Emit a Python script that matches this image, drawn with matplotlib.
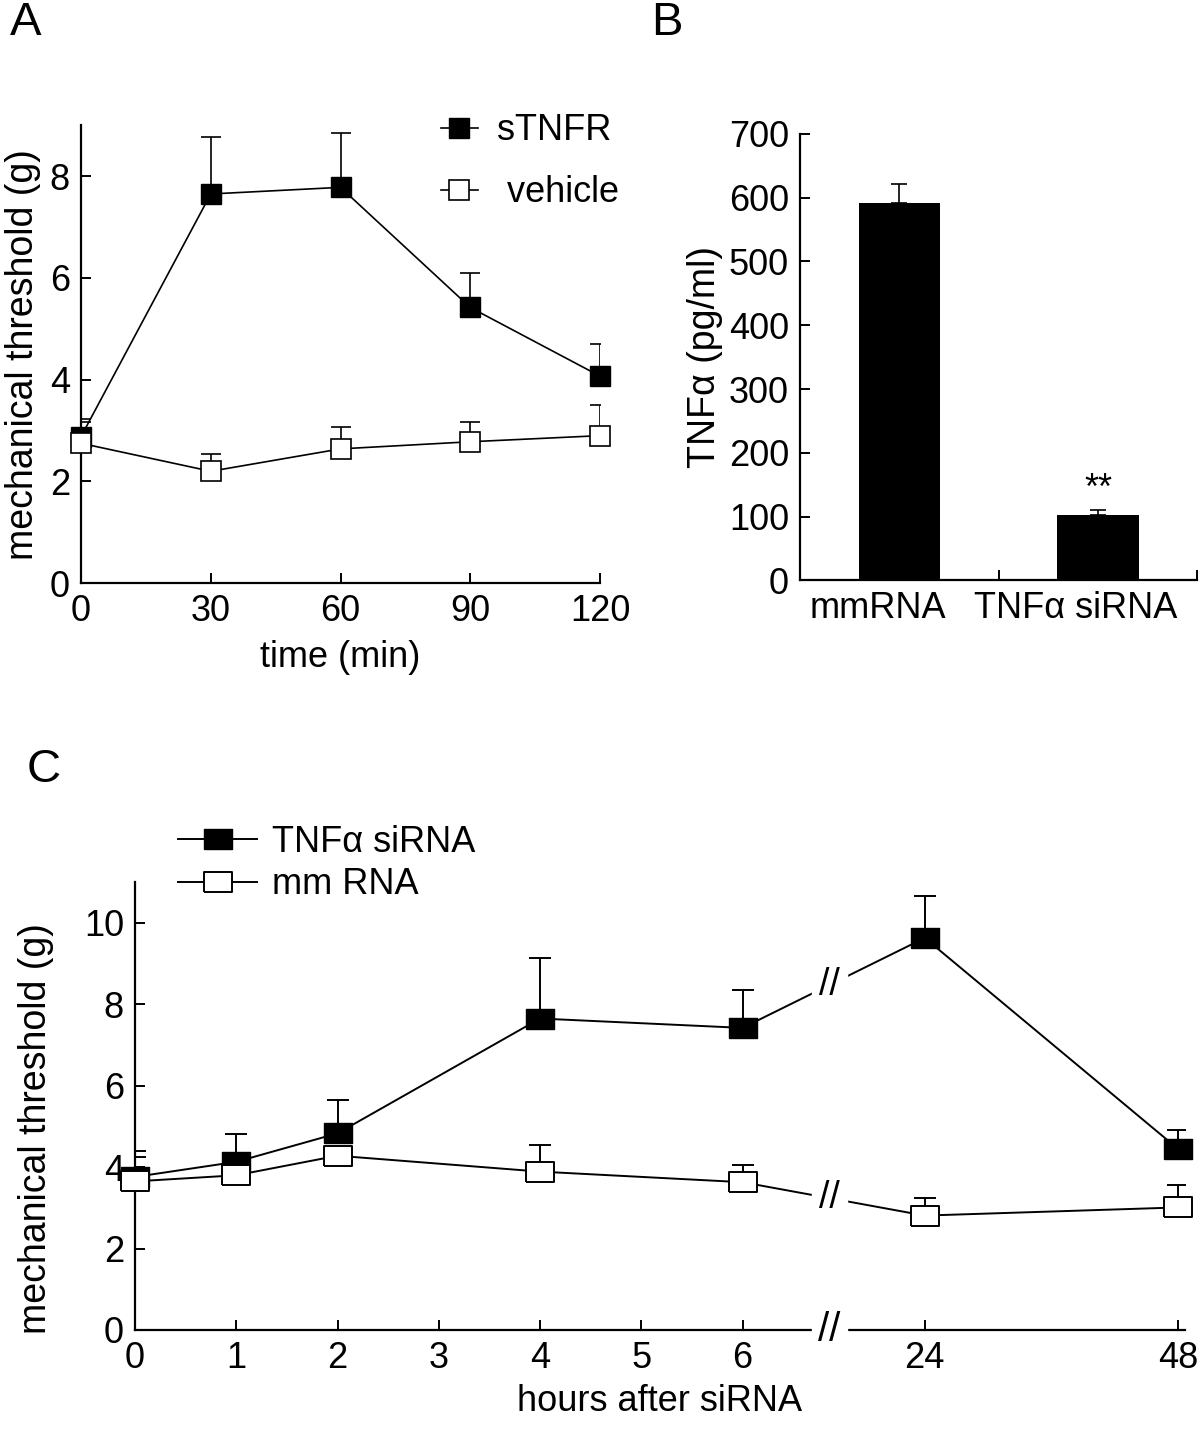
import matplotlib
matplotlib.use("Agg")
import matplotlib.pyplot as plt
import numpy as np

plt.rcParams['font.family'] = ['Liberation Sans', 'DejaVu Sans']
FS = 26
plt.rcParams['font.size'] = FS

# ---- panel A data ----
a_time = [0, 30, 60, 90, 120]
a_stnfr = [2.88, 7.65, 7.78, 5.42, 4.07]
a_stnfr_err = [0.35, 1.12, 1.07, 0.68, 0.64]
a_vehicle = [2.75, 2.2, 2.64, 2.78, 2.9]
a_vehicle_err = [0.42, 0.34, 0.43, 0.39, 0.6]

# ---- panel B data ----
b_groups = ["mmRNA", "TNF\u03b1 siRNA"]
b_values = [591, 103]
b_err = [31, 7]

# ---- panel C data ----
c_hours = [0, 1, 2, 4, 6, 24, 48]
c_sirna = [3.76, 4.13, 4.83, 7.65, 7.42, 9.63, 4.45]
c_sirna_err = [0.63, 0.68, 0.81, 1.48, 0.93, 1.02, 0.46]
c_mm = [3.65, 3.8, 4.28, 3.89, 3.63, 2.81, 3.01]
c_mm_err = [0.61, 0.0, 0.0, 0.65, 0.43, 0.42, 0.55]
c_tick_hours = [0, 1, 2, 3, 4, 5, 6, 24, 48]


def hour_to_pos(h):
    # broken x scale: 0-6 h linear, then 24 and 48 h compressed
    h = np.asarray(h, dtype=float)
    return np.where(h <= 6, h, 7.8 + (h - 24) * (2.5 / 24))


rect = [(-1.35, -1), (1.35, -1), (1.35, 1), (-1.35, 1), (-1.35, -1)]

fig = plt.figure(figsize=(12, 14.4), dpi=100)


def style(ax):
    ax.spines['top'].set_visible(False)
    ax.spines['right'].set_visible(False)
    ax.spines['left'].set_linewidth(1.6)
    ax.spines['bottom'].set_linewidth(1.6)
    ax.tick_params(direction='in', length=7, width=1.4, pad=8, labelsize=FS)


# ================= Panel A =================
axA = fig.add_axes([0.0675, 0.595, 0.4325, 0.318])
style(axA)
axA.errorbar(a_time, a_stnfr, yerr=[np.zeros(5), a_stnfr_err], fmt='none',
             ecolor='black', elinewidth=1.2, capsize=7, capthick=1.2, zorder=2)
axA.errorbar(a_time, a_vehicle, yerr=[np.zeros(5), a_vehicle_err], fmt='none',
             ecolor='black', elinewidth=1.2, capsize=7, capthick=1.2, zorder=2)
axA.plot(a_time, a_stnfr, color='black', lw=1.2, marker='s', ms=14,
         mfc='black', mec='black', label='sTNFR', zorder=3, clip_on=False)
axA.plot(a_time, a_vehicle, color='black', lw=1.2, marker='s', ms=14,
         mfc='white', mec='black', mew=1.2, label=' vehicle', zorder=4, clip_on=False)
axA.set_xlim(0, 120)
axA.set_ylim(0, 9)
axA.set_xticks(a_time)
axA.set_yticks([0, 2, 4, 6, 8])
axA.set_xlabel('time (min)', fontsize=FS, labelpad=8)
axA.set_ylabel('mechanical threshold (g)', fontsize=27, labelpad=6)
axA.legend(loc='upper right', bbox_to_anchor=(1.1, 1.097), frameon=False,
           fontsize=FS, handlelength=1.0, labelspacing=0.75, handletextpad=0.55)

# ================= Panel B =================
axB = fig.add_axes([0.6667, 0.597, 0.331, 0.310])
style(axB)
xb = np.arange(len(b_groups)) + 0.5
axB.bar(xb, b_values, width=0.41, color='black', zorder=2)
axB.errorbar(xb, b_values, yerr=[np.zeros(2), b_err], fmt='none', ecolor='black',
             elinewidth=1.2, capsize=6, capthick=1.2, zorder=1)
axB.text(xb[1], b_values[1] + b_err[1] + 32, '**', ha='center', va='center', fontsize=26)
axB.set_xlim(0, 2)
axB.set_ylim(0, 700)
axB.set_yticks(np.arange(0, 701, 100))
axB.set_xticks([1, 2])
axB.set_xticklabels([])
axB.set_xticks(xb - 0.11, minor=True)
axB.set_xticklabels(b_groups, minor=True)
axB.tick_params(axis='x', which='minor', length=0, pad=8, labelsize=FS)
axB.set_ylabel('TNF\u03b1 (pg/ml)', fontsize=27, labelpad=4)

# ================= Panel C =================
axC = fig.add_axes([0.1125, 0.0764, 0.875, 0.311])
style(axC)
pc = hour_to_pos(c_hours)
axC.errorbar(pc, c_sirna, yerr=[np.zeros(7), c_sirna_err], fmt='none',
             ecolor='black', elinewidth=1.4, capsize=8, capthick=1.4, zorder=2)
axC.errorbar(pc, c_mm, yerr=[np.zeros(7), c_mm_err], fmt='none',
             ecolor='black', elinewidth=1.4, capsize=8, capthick=1.4, zorder=2)
axC.plot(pc, c_sirna, color='black', lw=1.4, marker=rect, ms=20,
         mfc='black', mec='black', label='TNF\u03b1 siRNA', zorder=3, clip_on=False)
axC.plot(pc, c_mm, color='black', lw=1.4, marker=rect, ms=20,
         mfc='white', mec='black', mew=1.4, label='mm RNA', zorder=4, clip_on=False)
axC.set_xlim(0, 10.37)
axC.set_ylim(0, 11)
axC.set_yticks([0, 2, 4, 6, 8, 10])
axC.set_xticks(hour_to_pos(c_tick_hours))
axC.set_xticklabels([str(h) for h in c_tick_hours])
axC.set_xlabel('hours after siRNA', fontsize=FS, labelpad=6)
axC.set_ylabel('mechanical threshold (g)', fontsize=27)
axC.yaxis.set_label_coords(-0.077, 0.45)

# axis / line break between 6 h and 24 h
gap0, gap1 = 6.69, 7.03
axC.axvspan(gap0, gap1, ymin=-0.02, ymax=1, color='white', zorder=5, clip_on=False)
gmid = (gap0 + gap1) / 2
p6, p24 = hour_to_pos(6), hour_to_pos(24)
for series in (c_sirna, c_mm):
    ymid = np.interp(gmid, [p6, p24], [series[4], series[5]])
    axC.text(gmid, ymid, '//', ha='center', va='center', fontsize=27, zorder=6)
axC.text(gmid, 0, '//', ha='center', va='center', fontsize=29, zorder=6,
         transform=axC.get_xaxis_transform(), clip_on=False)

axC.legend(loc='upper left', bbox_to_anchor=(0.01, 1.2), frameon=False,
           fontsize=FS, handlelength=2.2, labelspacing=0.2, handletextpad=0.4)

# panel letters
fig.text(0.008, 0.984, 'A', fontsize=34, va='center')
fig.text(0.543, 0.984, 'B', fontsize=34, va='center')
fig.text(0.022, 0.465, 'C', fontsize=34, va='center')

fig.savefig('out.png', dpi=100)
